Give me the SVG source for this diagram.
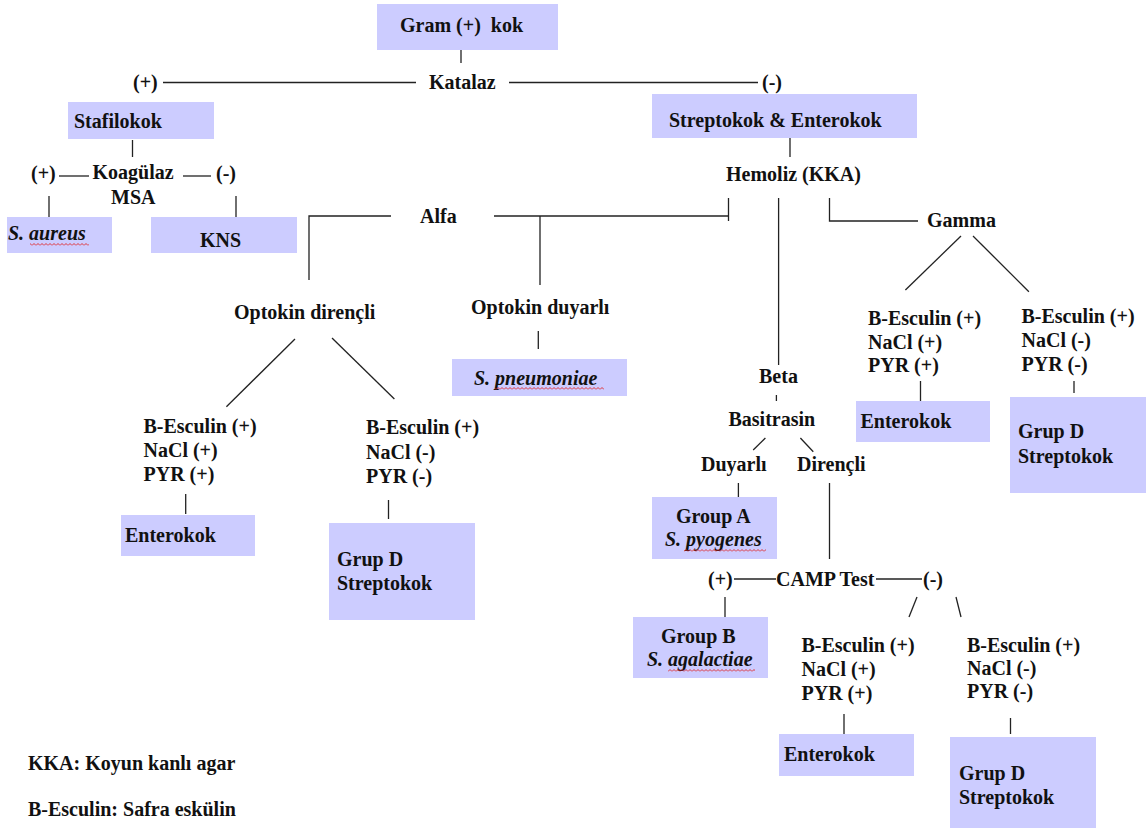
<svg xmlns="http://www.w3.org/2000/svg" width="1148" height="828" viewBox="0 0 1148 828">
<style>
text{font-family:"Liberation Serif","Times New Roman",serif;font-weight:bold;font-size:20px;fill:#111}
.it{font-style:italic}
.box{fill:#ccccff}
#connectors line,#connectors polyline{stroke:#222;stroke-width:1.3;fill:none}
.wavy{fill:url(#wv)}
</style>
<defs>
<pattern id="wv" patternUnits="userSpaceOnUse" width="4" height="3">
<path d="M0,2.5 L2,0.5 L4,2.5" stroke="#e02020" stroke-width="0.9" fill="none"/>
</pattern>
</defs>
<rect width="1148" height="828" fill="#fff"/>

<g id="connectors">
<line x1="461" y1="50" x2="461" y2="63"/>
<line x1="163" y1="82.5" x2="416" y2="82.5"/>
<line x1="509" y1="82.5" x2="758" y2="82.5"/>
<line x1="132.5" y1="140" x2="132.5" y2="157"/>
<line x1="59" y1="176" x2="89" y2="176"/>
<line x1="183" y1="176" x2="211" y2="176"/>
<line x1="49" y1="196" x2="49" y2="217"/>
<line x1="236" y1="196" x2="236" y2="217"/>
<polyline points="309,280 309,216 391,216"/>
<line x1="494" y1="216" x2="728.5" y2="216"/>
<line x1="728.5" y1="198" x2="728.5" y2="221"/>
<line x1="540" y1="216" x2="540" y2="285"/>
<line x1="790" y1="138" x2="790" y2="157"/>
<line x1="778.6" y1="198" x2="778.6" y2="365"/>
<polyline points="829.5,198 829.5,221 918,221"/>
<line x1="961" y1="236" x2="905.4" y2="290"/>
<line x1="973" y1="236" x2="1028.9" y2="291.7"/>
<line x1="295" y1="339" x2="226.4" y2="406.7"/>
<line x1="332" y1="338" x2="394.4" y2="399"/>
<line x1="538.3" y1="331" x2="538.3" y2="349"/>
<line x1="185.7" y1="494" x2="185.7" y2="514"/>
<line x1="388.5" y1="500" x2="388.5" y2="519"/>
<line x1="920.5" y1="381" x2="920.5" y2="401"/>
<line x1="1074" y1="381" x2="1074" y2="393"/>
<line x1="776.4" y1="395" x2="776.4" y2="401"/>
<line x1="765.4" y1="438" x2="753.2" y2="450"/>
<line x1="800.4" y1="438" x2="813.3" y2="451.7"/>
<line x1="738.4" y1="483" x2="738.4" y2="497"/>
<line x1="829.5" y1="483" x2="829.5" y2="559"/>
<line x1="734" y1="579" x2="776" y2="579"/>
<line x1="876" y1="579" x2="922" y2="579"/>
<line x1="725" y1="597" x2="725" y2="617"/>
<line x1="917" y1="597" x2="909" y2="617"/>
<line x1="956" y1="597" x2="961" y2="617"/>
<line x1="844" y1="714" x2="844" y2="734"/>
<line x1="1010.5" y1="718" x2="1010.5" y2="734"/>
</g>

<g id="gram"><rect class="box" x="377" y="4" width="181" height="46"/><text x="400" y="32">Gram (+)&#160; kok</text></g>
<g id="katalaz"><text x="133" y="89">(+)</text><text x="429" y="89">Katalaz</text><text x="762" y="89">(-)</text></g>
<g id="stafilokok"><rect class="box" x="68" y="102" width="146" height="37"/><text x="74" y="128">Stafilokok</text></g>
<g id="koagulaz"><text x="31" y="180">(+)</text><text x="92.5" y="179">Koagülaz</text><text x="216" y="180">(-)</text><text x="111" y="204">MSA</text></g>
<g id="saureus"><rect class="box" x="7" y="217" width="105" height="36"/><text class="it" x="8" y="240">S. aureus</text><rect class="wavy" x="30" y="243" width="59" height="3"/></g>
<g id="kns"><rect class="box" x="151" y="217" width="146" height="36"/><text x="200" y="247">KNS</text></g>
<g id="strepent"><rect class="box" x="652" y="94" width="265" height="44"/><text x="669" y="127">Streptokok &amp; Enterokok</text></g>
<g id="hemoliz"><text x="726" y="181">Hemoliz (KKA)</text></g>
<g id="alfa"><text x="420" y="223">Alfa</text></g>
<g id="gamma"><text x="927" y="227">Gamma</text></g>
<g id="optdir"><text x="234" y="319">Optokin dirençli</text></g>
<g id="optduy"><text x="471" y="314">Optokin duyarlı</text></g>
<g id="spneu"><rect class="box" x="452" y="359" width="175" height="37"/><text class="it" x="474" y="385">S. pneumoniae</text><rect class="wavy" x="495" y="387" width="109" height="3"/></g>
<g id="beta"><text x="759" y="383">Beta</text></g>
<g id="basitrasin"><text x="728.5" y="426">Basitrasin</text></g>
<g id="duyarli"><text x="701" y="471">Duyarlı</text></g>
<g id="direncli"><text x="797" y="471">Dirençli</text></g>
<g id="groupa"><rect class="box" x="652" y="497" width="125" height="62"/><text x="676" y="523">Group A</text><text class="it" x="665" y="546">S. pyogenes</text><rect class="wavy" x="684" y="549" width="82" height="3"/></g>
<g id="camp"><text x="708" y="586">(+)</text><text x="776" y="586">CAMP Test</text><text x="923" y="586">(-)</text></g>
<g id="groupb"><rect class="box" x="633" y="617" width="135" height="61"/><text x="661" y="643">Group B</text><text class="it" x="647" y="666">S. agalactiae</text><rect class="wavy" x="668" y="669" width="87" height="3"/></g>

<g id="testL1"><text x="143.5" y="433">B-Esculin (+)</text><text x="143.5" y="457">NaCl (+)</text><text x="143.5" y="481">PYR (+)</text></g>
<g id="testL2"><text x="366" y="434">B-Esculin (+)</text><text x="366" y="459">NaCl (-)</text><text x="366" y="483">PYR (-)</text></g>
<g id="testG1"><text x="868" y="325">B-Esculin (+)</text><text x="868" y="349">NaCl (+)</text><text x="868" y="372">PYR (+)</text></g>
<g id="testG2"><text x="1021.5" y="323">B-Esculin (+)</text><text x="1021.5" y="347">NaCl (-)</text><text x="1021.5" y="371">PYR (-)</text></g>
<g id="testC1"><text x="801.5" y="652">B-Esculin (+)</text><text x="801.5" y="676">NaCl (+)</text><text x="801.5" y="700">PYR (+)</text></g>
<g id="testC2"><text x="967" y="652">B-Esculin (+)</text><text x="967" y="675">NaCl (-)</text><text x="967" y="698">PYR (-)</text></g>

<g id="enteroL"><rect class="box" x="121" y="515" width="134" height="41"/><text x="125" y="542">Enterokok</text></g>
<g id="grupdL"><rect class="box" x="329" y="523" width="146" height="97"/><text x="337" y="566">Grup D</text><text x="337" y="590">Streptokok</text></g>
<g id="enteroG"><rect class="box" x="856" y="401" width="134" height="41"/><text x="860.5" y="428">Enterokok</text></g>
<g id="grupdG"><rect class="box" x="1010" y="397" width="136" height="96"/><text x="1018" y="438">Grup D</text><text x="1018" y="463">Streptokok</text></g>
<g id="enteroC"><rect class="box" x="779" y="734" width="135" height="42"/><text x="784" y="761">Enterokok</text></g>
<g id="grupdC"><rect class="box" x="950" y="737" width="146" height="91"/><text x="959" y="780">Grup D</text><text x="959" y="804">Streptokok</text></g>

<g id="legend"><text x="28" y="770">KKA: Koyun kanlı agar</text><text x="28" y="816">B-Esculin: Safra eskülin</text></g>
</svg>
